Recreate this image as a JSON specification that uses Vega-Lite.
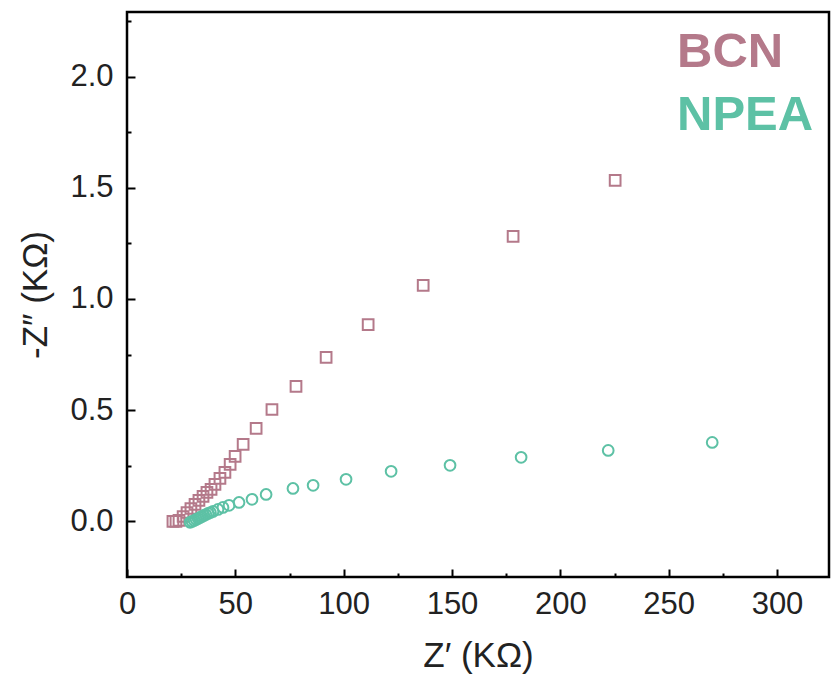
{
  "$schema": "https://vega.github.io/schema/vega-lite/v6.json",
  "width": 702,
  "height": 565,
  "autosize": {"type": "none"},
  "padding": {"left": 127, "top": 12, "right": 2, "bottom": 102},
  "background": "white",
  "view": {"stroke": "black", "strokeWidth": 2.5},
  "config": {
    "font": "Liberation Sans",
    "axis": {"domainColor": "black", "domainWidth": 2.5, "tickColor": "black", "tickWidth": 2, "tickOpacity": 1, "labelColor": "#222", "titleColor": "#222", "labelFont": "Liberation Sans", "titleFont": "Liberation Sans", "titleFontWeight": "normal", "grid": false}
  },
  "data": {"values": [
    {"series": "BCN", "zr": 21.2, "zi": 0.0},
    {"series": "BCN", "zr": 22.6, "zi": 0.0},
    {"series": "BCN", "zr": 24.0, "zi": 0.005},
    {"series": "BCN", "zr": 25.9, "zi": 0.022},
    {"series": "BCN", "zr": 27.7, "zi": 0.040},
    {"series": "BCN", "zr": 29.5, "zi": 0.058},
    {"series": "BCN", "zr": 31.4, "zi": 0.076},
    {"series": "BCN", "zr": 33.2, "zi": 0.094},
    {"series": "BCN", "zr": 35.1, "zi": 0.112},
    {"series": "BCN", "zr": 36.9, "zi": 0.130},
    {"series": "BCN", "zr": 38.8, "zi": 0.144},
    {"series": "BCN", "zr": 40.6, "zi": 0.166},
    {"series": "BCN", "zr": 42.9, "zi": 0.193},
    {"series": "BCN", "zr": 45.2, "zi": 0.220},
    {"series": "BCN", "zr": 47.6, "zi": 0.256},
    {"series": "BCN", "zr": 49.9, "zi": 0.292},
    {"series": "BCN", "zr": 53.6, "zi": 0.346},
    {"series": "BCN", "zr": 59.6, "zi": 0.418},
    {"series": "BCN", "zr": 66.9, "zi": 0.503},
    {"series": "BCN", "zr": 78.0, "zi": 0.607},
    {"series": "BCN", "zr": 91.9, "zi": 0.737},
    {"series": "BCN", "zr": 111.3, "zi": 0.885},
    {"series": "BCN", "zr": 136.7, "zi": 1.061},
    {"series": "BCN", "zr": 178.2, "zi": 1.281},
    {"series": "BCN", "zr": 225.3, "zi": 1.533},
    {"series": "NPEA", "zr": 29.1, "zi": -0.004},
    {"series": "NPEA", "zr": 30.0, "zi": 0.0},
    {"series": "NPEA", "zr": 31.0, "zi": 0.004},
    {"series": "NPEA", "zr": 31.9, "zi": 0.009},
    {"series": "NPEA", "zr": 32.8, "zi": 0.013},
    {"series": "NPEA", "zr": 33.7, "zi": 0.018},
    {"series": "NPEA", "zr": 34.6, "zi": 0.022},
    {"series": "NPEA", "zr": 35.5, "zi": 0.027},
    {"series": "NPEA", "zr": 36.4, "zi": 0.031},
    {"series": "NPEA", "zr": 37.4, "zi": 0.036},
    {"series": "NPEA", "zr": 38.5, "zi": 0.040},
    {"series": "NPEA", "zr": 39.7, "zi": 0.045},
    {"series": "NPEA", "zr": 42.0, "zi": 0.054},
    {"series": "NPEA", "zr": 44.3, "zi": 0.063},
    {"series": "NPEA", "zr": 47.1, "zi": 0.072},
    {"series": "NPEA", "zr": 51.7, "zi": 0.085},
    {"series": "NPEA", "zr": 57.7, "zi": 0.099},
    {"series": "NPEA", "zr": 64.2, "zi": 0.121},
    {"series": "NPEA", "zr": 76.6, "zi": 0.148},
    {"series": "NPEA", "zr": 85.9, "zi": 0.162},
    {"series": "NPEA", "zr": 101.1, "zi": 0.189},
    {"series": "NPEA", "zr": 121.9, "zi": 0.225},
    {"series": "NPEA", "zr": 149.1, "zi": 0.252},
    {"series": "NPEA", "zr": 181.9, "zi": 0.288},
    {"series": "NPEA", "zr": 222.1, "zi": 0.319},
    {"series": "NPEA", "zr": 270.1, "zi": 0.355}
  ]},
  "resolve": {"axis": {"x": "independent", "y": "independent"}},
  "layer": [
    {
      "mark": {"type": "point", "opacity": 0, "size": 1},
      "encoding": {
        "x": {
          "field": "zr", "type": "quantitative",
          "scale": {"domain": [0, 324], "nice": false, "zero": false},
          "axis": {"orient": "bottom", "title": null, "labels": false, "domain": false, "ticks": true, "tickSize": 4, "offset": -4,
                   "tickColor": "black", "tickWidth": 2,
                   "values": [25, 75, 125, 175, 225, 275]}
        },
        "y": {
          "field": "zi", "type": "quantitative",
          "scale": {"domain": [-0.25, 2.29], "nice": false, "zero": false},
          "axis": {"orient": "left", "title": null, "labels": false, "domain": false, "ticks": true, "tickSize": 4, "offset": -4,
                   "tickColor": "black", "tickWidth": 2,
                   "values": [0.25, 0.75, 1.25, 1.75, 2.25]}
        }
      }
    },
    {
      "mark": {"type": "point", "filled": false, "strokeWidth": 2, "size": 115, "opacity": 1},
      "encoding": {
        "x": {
          "field": "zr", "type": "quantitative",
          "scale": {"domain": [0, 324], "nice": false, "zero": false},
          "axis": {
            "orient": "bottom", "offset": -8, "domain": false,
            "title": "Z′ (KΩ)", "titleFontSize": 35, "titlePadding": 19,
            "values": [0, 50, 100, 150, 200, 250, 300],
            "labelFontSize": 31, "labelPadding": 12, "labelFlush": false,
            "ticks": true, "tickSize": 8, "tickColor": "black", "tickWidth": 2
          }
        },
        "y": {
          "field": "zi", "type": "quantitative",
          "scale": {"domain": [-0.25, 2.29], "nice": false, "zero": false},
          "axis": {
            "orient": "left", "offset": -8, "domain": false,
            "title": "-Z″ (KΩ)", "titleFontSize": 35, "titlePadding": 16,
            "values": [0, 0.5, 1, 1.5, 2],
            "format": ".1f",
            "labelFontSize": 31, "labelPadding": 14, "labelFlush": false,
            "ticks": true, "tickSize": 8, "tickColor": "black", "tickWidth": 2
          }
        },
        "color": {
          "field": "series", "type": "nominal",
          "scale": {"domain": ["BCN", "NPEA"], "range": ["#b4798a", "#5dc1a5"]},
          "legend": {
            "orient": "top-right", "title": null, "symbolSize": 0, "symbolStrokeWidth": 0, "symbolOpacity": 0,
            "labelFontSize": 49, "labelFont": "Liberation Sans", "labelFontWeight": "bold", "labelOffset": 0,
            "labelColor": {"expr": "datum.value === 'BCN' ? '#b4798a' : '#5dc1a5'"},
            "rowPadding": 13, "offset": 15
          }
        },
        "shape": {
          "field": "series", "type": "nominal",
          "scale": {"domain": ["BCN", "NPEA"], "range": ["square", "circle"]},
          "legend": null
        }
      }
    }
  ]
}
